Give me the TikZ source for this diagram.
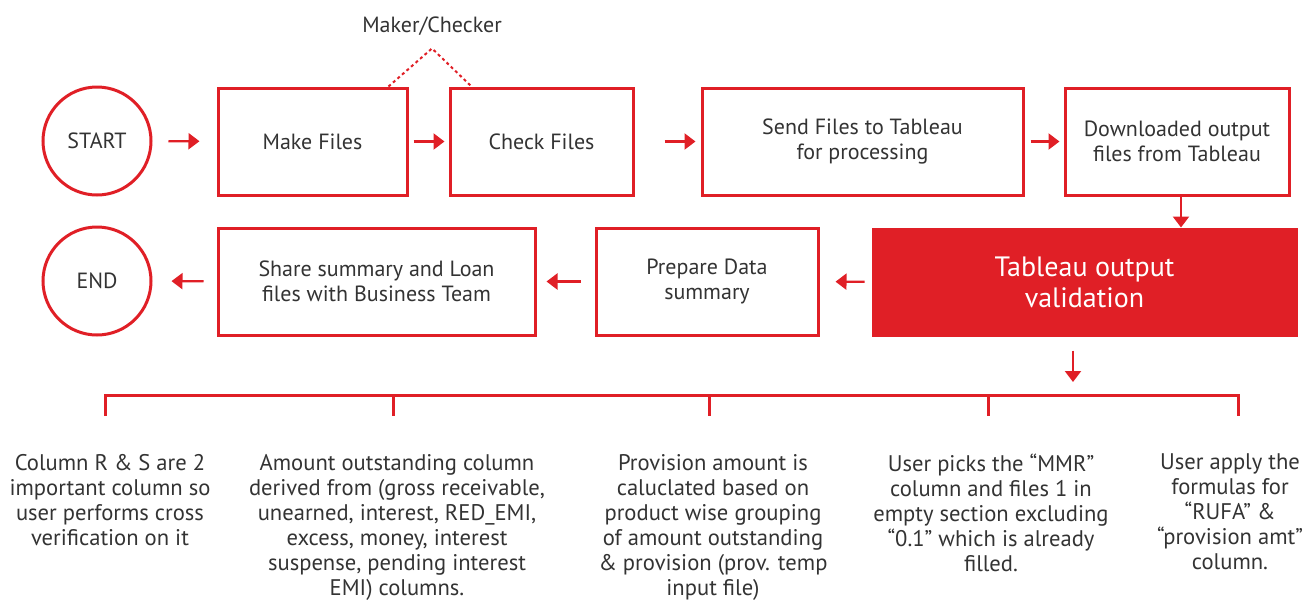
\documentclass[tikz,border=0pt]{standalone}
\usepackage{fontspec}
\setmainfont{PT Sans}
\usepackage{xcolor}
\usetikzlibrary{arrows.meta,positioning}
\definecolor{brandred}{HTML}{E01F26}
\definecolor{inkgray}{HTML}{333333}

\begin{document}
\begin{tikzpicture}[x=0.5pt,y=-0.5pt,
  txt/.style={font=\fontsize{11}{12.5}\selectfont, text=inkgray, align=center},
  stepbox/.style={txt, draw=brandred, line width=1.5pt, minimum height=53.5pt, inner sep=2pt},
  endpoint/.style={txt, circle, draw=brandred, line width=1.5pt, minimum size=54pt, inner sep=0pt},
  flow/.style={draw=brandred, line width=1.1pt, -{Triangle[length=5.5pt,width=8pt]}},
  note/.style={txt, font=\fontsize{11.3}{12.5}\selectfont, anchor=north}]
\useasboundingbox (0,0) rectangle (1303,601);
%%%%%%%%%%%%%%%% first row
\node[endpoint] (start) at (97,141) {START};
\node[stepbox, minimum width=94.5pt] (make) at (312.5,141.5) {Make Files};
\node[stepbox, minimum width=91.5pt] (check) at (541.5,141.5) {Check Files};
\node[stepbox, minimum width=160.5pt] (send) at (862.5,141.5) {Send Files to Tableau\\for processing};
\node[stepbox, minimum width=112pt] (fetch) at (1177,141.5) {Downloaded output\\files from Tableau};
\node[txt] (maker) at (432,26) {Maker/Checker};
\draw[brandred, line width=1pt, dash pattern=on 1.5pt off 1.5pt]
  ([xshift=-10pt]make.north east) -- ([yshift=-3pt]maker.south) -- ([xshift=11.5pt]check.north west);
%%%%%%%%%%%%%%%% second row
\node[endpoint] (finish) at (97,281) {END};
\node[stepbox, minimum width=158.5pt] (share) at (376.5,281.5) {Share summary and Loan\\files with Business Team};
\node[stepbox, minimum width=111pt] (prep) at (707,281.5) {Prepare Data\\summary};
\node[stepbox, fill=brandred, text=white, minimum width=211.5pt, minimum height=53pt,
  font=\fontsize{14}{15.5}\selectfont] (valid) at (1084.5,282) {Tableau output\\validation};
%%%%%%%%%%%%%%%% arrows
\draw[flow, shorten <=8pt, shorten >=8.5pt] (start) -- (make);
\draw[flow, shorten <=2.5pt, shorten >=2pt] (make) -- (check);
\draw[flow, shorten <=15pt, shorten >=2.5pt] (check) -- (send);
\draw[flow, shorten <=3pt, shorten >=2pt] (send) -- (fetch);
\draw[flow] ([xshift=2pt]fetch.south) -- ([xshift=2pt]fetch.south |- valid.north);
\draw[flow, shorten <=3.5pt, shorten >=8pt] (valid) -- (prep);
\draw[flow, shorten <=7pt, shorten >=5pt] (prep) -- (share);
\draw[flow, shorten <=6.5pt, shorten >=9.5pt] (share) -- (finish);
%%%%%%%%%%%%%%%% checks
\coordinate (brk) at (1073,395);
\draw[flow, shorten <=7pt, shorten >=6.5pt] ([xshift=-5.75pt]valid.south) -- ([xshift=-5.75pt]valid.south |- brk);
\draw[brandred, line width=1.5pt] (105,416) -- (105,395) -- (1238,395) -- (1238,416);
\foreach \tx in {393,709,988}
  \draw[brandred, line width=1.5pt] (\tx,395) -- (\tx,416);
\node[note] (t1) at (110,447) {Column R \& S are 2\\important column so\\user performs cross\\verification on it};
\node[note] (t2) at (397,447) {Amount outstanding column\\derived from (gross receivable,\\unearned, interest, RED\_EMI,\\excess, money, interest\\suspense, pending interest\\EMI) columns.};
\node[note] (t3) at (713,447) {Provision amount is\\caluclated based on\\product wise grouping\\of amount outstanding\\\& provision (prov. temp\\input file)};
\node[note] (t4) at (991,447) {User picks the “MMR”\\column and files 1 in\\empty section excluding\\“0.1” which is already\\filled.};
\node[note] (t5) at (1230,447) {User apply the\\formulas for\\“RUFA” \&\\“provision amt”\\column.};
\end{tikzpicture}
\end{document}
